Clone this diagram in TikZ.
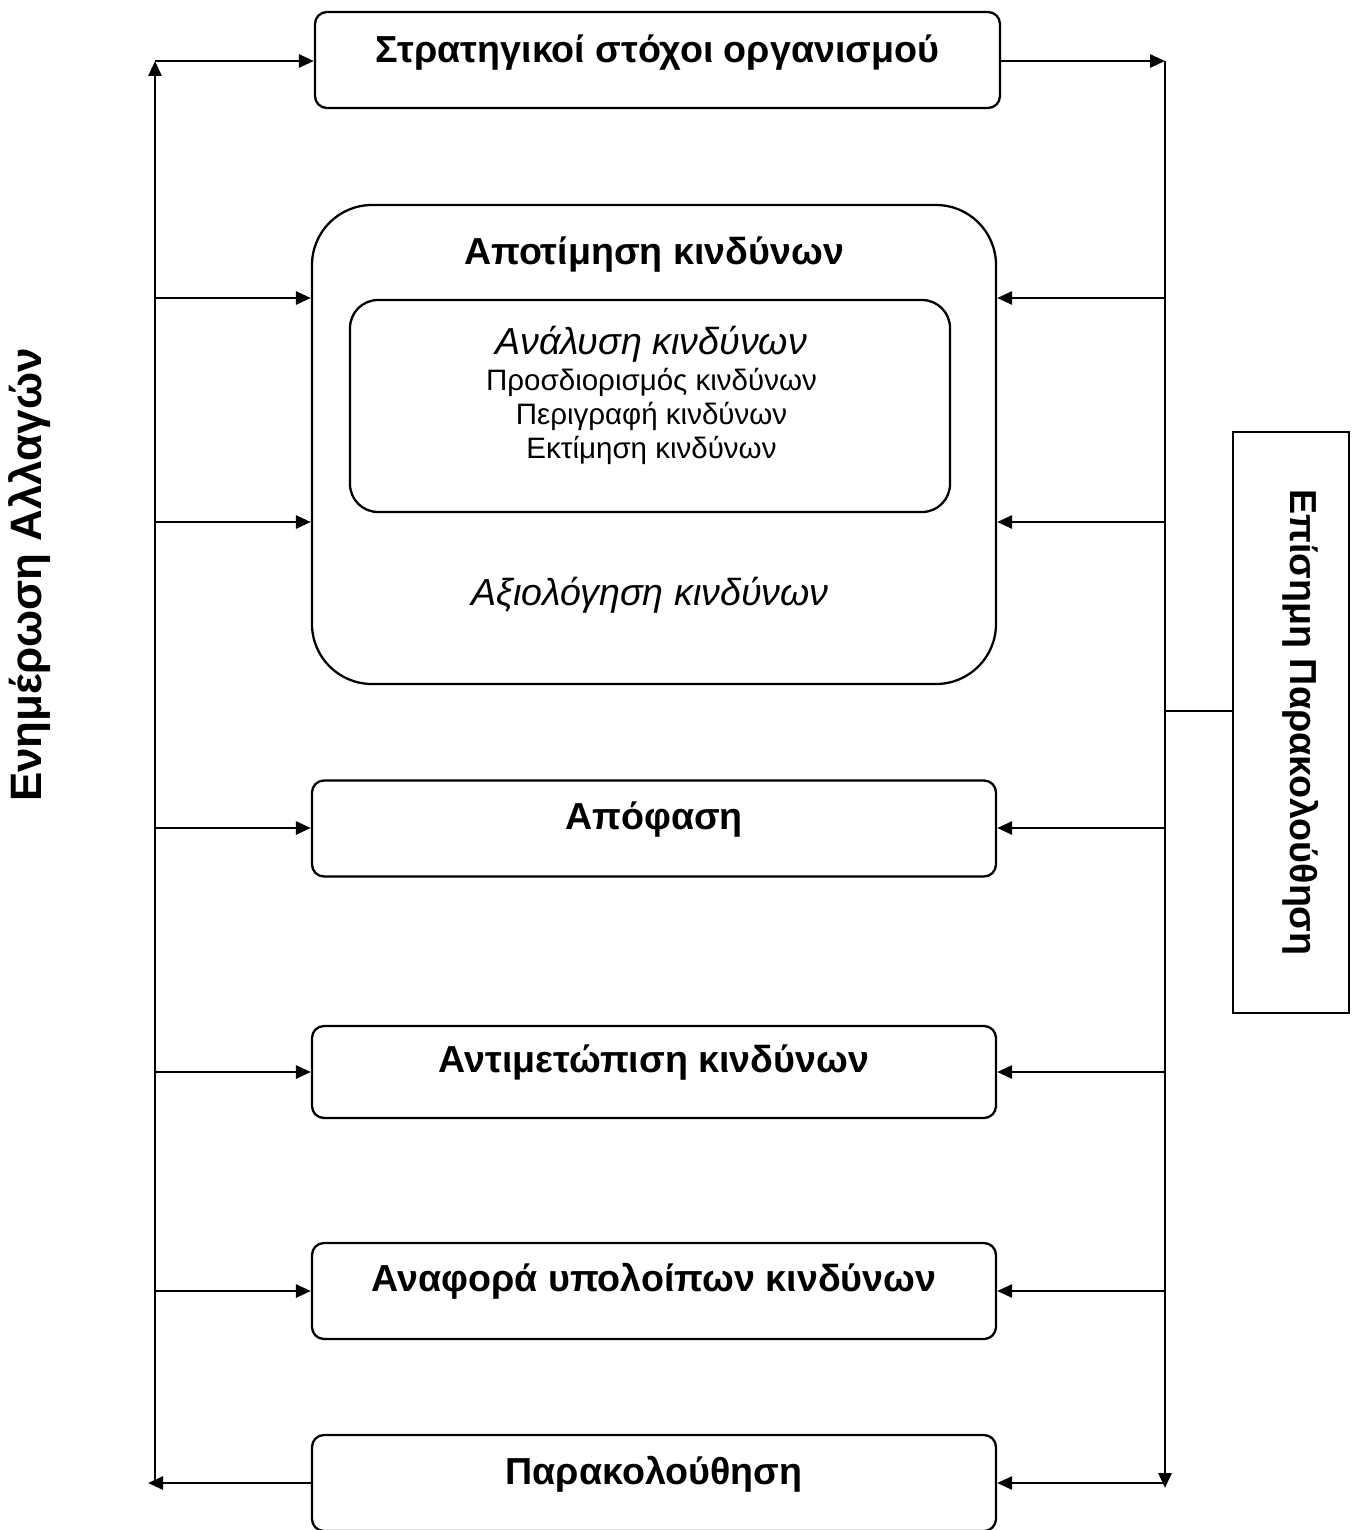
\documentclass[tikz,border=0pt]{standalone}
\usepackage{fontspec}
\setmainfont{Liberation Sans}
\usetikzlibrary{arrows.meta, positioning, calc}

\begin{document}
\begin{tikzpicture}[
    stagebox/.style={draw, line width=1.3pt, rounded corners=0.24cm, minimum width=13.68cm, minimum height=1.92cm, text height=0.75em, text depth=0.65em, font=\fontsize{21.4}{25}\selectfont\bfseries},
    itemtext/.style={font=\fontsize{16.8}{19}\selectfont},
    flowarrow/.style={line width=1.6pt, -{Triangle[length=0.3cm, width=0.26cm]}}
  ]
  \useasboundingbox (0,0) rectangle (27.2,-30.6);

  % Stages of the process
  \node[stagebox, minimum width=13.7cm, text depth=0.42em] (goals) at (13.15,-1.2) {Στρατηγικοί στόχοι οργανισμού};
  \node[draw, line width=1.3pt, rounded corners=1.2cm, minimum width=13.68cm, minimum height=9.58cm] (assess) at (13.08,-8.89) {};
  \node[font=\fontsize{21.4}{25}\selectfont\bfseries] (assesstitle) at (13.08,-5.1) {Αποτίμηση κινδύνων};
  \node[draw, line width=1.3pt, rounded corners=0.56cm, minimum width=12cm, minimum height=4.24cm] (analysis) at (13.0,-8.12) {};
  \node[font=\fontsize{21.4}{25}\selectfont\itshape] (analysistitle) at (13.03,-6.89) {Ανάλυση κινδύνων};
  \node[itemtext] (identify) at (13.03,-7.65) {Προσδιορισμός κινδύνων};
  \node[itemtext] (describe) at (13.03,-8.33) {Περιγραφή κινδύνων};
  \node[itemtext] (estimate) at (13.03,-9.0) {Εκτίμηση κινδύνων};
  \node[font=\fontsize{21.4}{25}\selectfont\itshape] (evaluation) at (13.0,-11.9) {Αξιολόγηση κινδύνων};
  \node[stagebox] (decision) at (13.08,-16.57) {Απόφαση};
  \node[stagebox, minimum height=1.84cm] (treatment) at (13.08,-21.44) {Αντιμετώπιση κινδύνων};
  \node[stagebox] (report) at (13.08,-25.82) {Αναφορά υπολοίπων κινδύνων};
  \node[stagebox, text depth=0.55em] (monitor) at (13.08,-29.66) {Παρακολούθηση};

  % Side labels
  \node[font=\fontsize{25}{29}\selectfont\bfseries, rotate=90] (changes) at (0.6,-11.5) {Ενημέρωση Αλλαγών};
  \node[draw, line width=1.1pt, rotate=-90, minimum width=11.62cm, minimum height=2.32cm, text height=0.75em, text depth=0.65em, font=\fontsize{21.4}{25}\selectfont\bfseries] (formal) at (25.82,-14.45) {Επίσημη Παρακολούθηση};

  % Left feedback line
  \coordinate (ltop) at (3.1,-1.22);
  \coordinate (lbot) at (3.1,-29.66);
  \coordinate (ltip) at (2.96,-29.66);
  \draw[flowarrow] (lbot) -- (ltop);
  \draw[flowarrow] (ltop) -- (ltop -| goals.west);
  \draw[flowarrow] (monitor.west) -- (ltip);
  \foreach \y/\target in {5.96/assess, 10.44/assess, 16.56/decision, 21.44/treatment, 25.82/report}
    \draw[flowarrow] (3.1,-\y) -- (\target.west |- 0,-\y);

  % Right monitoring line
  \coordinate (rtop) at (23.3,-1.22);
  \coordinate (rbot) at (23.3,-29.76);
  \coordinate (rmid) at (23.3,-14.22);
  \draw[flowarrow] (goals.east |- rtop) -- (rtop);
  \draw[flowarrow] (rtop) -- (rbot);
  \foreach \y/\target in {5.96/assess, 10.44/assess, 16.56/decision, 21.44/treatment, 25.82/report, 29.66/monitor}
    \draw[flowarrow] (23.3,-\y) -- (\target.east |- 0,-\y);
  \draw[line width=1.1pt] (rmid) -- (rmid -| formal.south);
\end{tikzpicture}
\end{document}
